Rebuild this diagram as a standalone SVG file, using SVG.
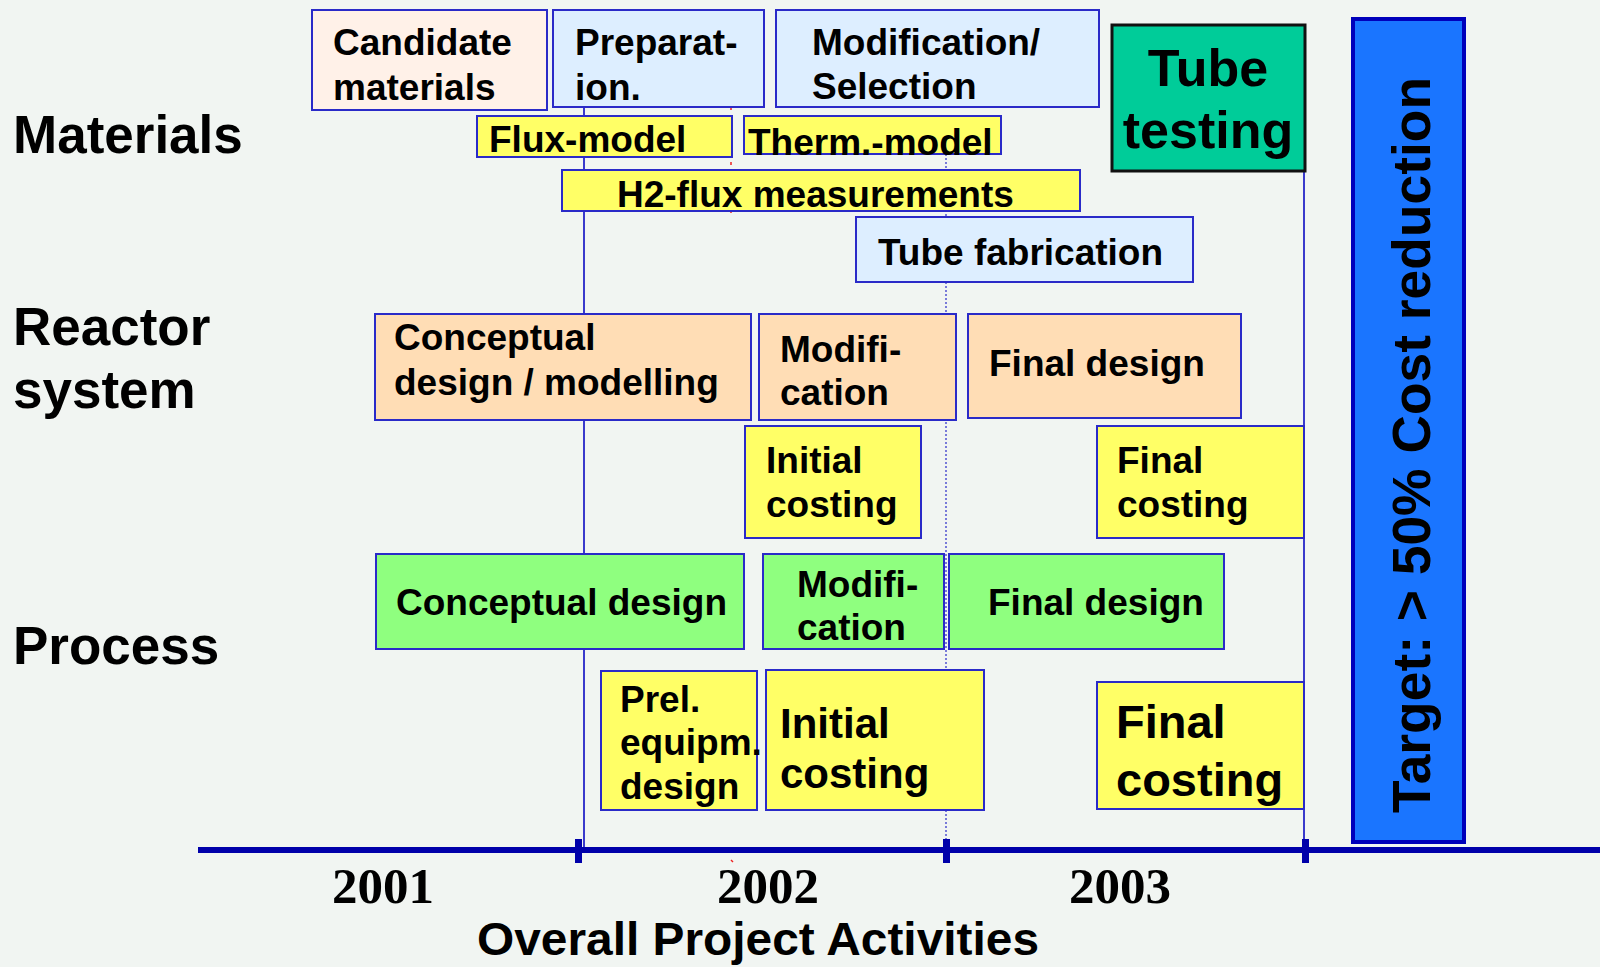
<svg xmlns="http://www.w3.org/2000/svg" width="1600" height="967" viewBox="0 0 1600 967">
  <style>
    .lbl { font-family: "Liberation Sans", Arial, sans-serif; font-weight: bold; fill: #000; }
    .t37 { font-size: 37px; }
    .t52 { font-size: 52px; }
    .row { font-size: 53px; }
    .box { stroke: #2a2ac8; stroke-width: 2; }
    .peach-lt { fill: #fff1e8; }
    .blue-lt { fill: #ddeeff; }
    .yellow { fill: #ffff66; }
    .peach { fill: #ffddb5; }
    .green { fill: #8fff7f; }
    .year { font-family: "Liberation Serif", "Times New Roman", serif; font-weight: bold; font-size: 51px; fill: #000; text-anchor: middle; }
  </style>

  <!-- background -->
  <rect x="0" y="0" width="1600" height="967" fill="#f1f5f2"/>

  <!-- milestone guide lines (behind the activity bars) -->
  <g id="connectors">
    <line x1="584" y1="107" x2="584" y2="849" stroke="#3a3acc" stroke-width="2"/>
    <line x1="946" y1="154" x2="946" y2="849" stroke="#2a2ac8" stroke-width="1.2" stroke-dasharray="2,2"/>
    <line x1="1304" y1="171" x2="1304" y2="849" stroke="#3a3acc" stroke-width="2"/>
    <!-- faint red guide marks -->
    <g stroke="#ee2222" stroke-width="1.5">
      <line x1="731" y1="107" x2="731" y2="110"/>
      <line x1="731" y1="162" x2="731" y2="165"/>
      <line x1="731" y1="210" x2="731" y2="213"/>
      <line x1="731" y1="860" x2="733" y2="862"/>
    </g>
  </g>

  <!-- row headings -->
  <g id="row-labels" class="lbl row">
    <text x="13" y="153">Materials</text>
    <text x="13" y="345">Reactor</text>
    <text x="13" y="408">system</text>
    <text x="13" y="664">Process</text>
  </g>

  <!-- Materials row -->
  <g id="candidate-materials">
    <rect class="box peach-lt" x="312" y="10" width="235" height="100"/>
    <text class="lbl t37" x="333" y="55">Candidate</text>
    <text class="lbl t37" x="333" y="100">materials</text>
  </g>
  <g id="preparation">
    <rect class="box blue-lt" x="553" y="10" width="211" height="97"/>
    <text class="lbl t37" x="575" y="55">Preparat-</text>
    <text class="lbl t37" x="575" y="100">ion.</text>
  </g>
  <g id="modification-selection">
    <rect class="box blue-lt" x="776" y="10" width="323" height="97"/>
    <text class="lbl t37" x="812" y="55">Modification/</text>
    <text class="lbl t37" x="812" y="99">Selection</text>
  </g>
  <g id="flux-model">
    <rect class="box yellow" x="477" y="116" width="255" height="41"/>
    <text class="lbl t37" x="489" y="152">Flux-model</text>
  </g>
  <g id="therm-model">
    <rect class="box yellow" x="744" y="116" width="257" height="38"/>
    <text class="lbl t37" x="748" y="155">Therm.-model</text>
  </g>
  <g id="h2-flux">
    <rect class="box yellow" x="562" y="170" width="518" height="41"/>
    <text class="lbl t37" x="617" y="207">H2-flux measurements</text>
  </g>
  <g id="tube-fabrication">
    <rect class="box blue-lt" x="856" y="217" width="337" height="65"/>
    <text class="lbl t37" x="878" y="265">Tube fabrication</text>
  </g>
  <g id="tube-testing">
    <rect x="1112" y="25" width="193" height="146" fill="#00cc99" stroke="#111" stroke-width="3"/>
    <text class="lbl t52" x="1208" y="86" text-anchor="middle">Tube</text>
    <text class="lbl t52" x="1208" y="148" text-anchor="middle">testing</text>
  </g>

  <!-- Reactor system row -->
  <g id="reactor-conceptual">
    <rect class="box peach" x="375" y="314" width="376" height="106"/>
    <text class="lbl t37" x="394" y="350">Conceptual</text>
    <text class="lbl t37" x="394" y="395">design / modelling</text>
  </g>
  <g id="reactor-modification">
    <rect class="box peach" x="759" y="314" width="197" height="106"/>
    <text class="lbl t37" x="780" y="362">Modifi-</text>
    <text class="lbl t37" x="780" y="405">cation</text>
  </g>
  <g id="reactor-final-design">
    <rect class="box peach" x="968" y="314" width="273" height="104"/>
    <text class="lbl t37" x="989" y="376">Final design</text>
  </g>
  <g id="reactor-initial-costing">
    <rect class="box yellow" x="745" y="426" width="176" height="112"/>
    <text class="lbl t37" x="766" y="473">Initial</text>
    <text class="lbl t37" x="766" y="517">costing</text>
  </g>
  <g id="reactor-final-costing">
    <rect class="box yellow" x="1097" y="426" width="207" height="112"/>
    <text class="lbl t37" x="1117" y="473">Final</text>
    <text class="lbl t37" x="1117" y="517">costing</text>
  </g>

  <!-- Process row -->
  <g id="process-conceptual">
    <rect class="box green" x="376" y="554" width="368" height="95"/>
    <text class="lbl t37" x="396" y="615">Conceptual design</text>
  </g>
  <g id="process-modification">
    <rect class="box green" x="763" y="554" width="181" height="95"/>
    <text class="lbl t37" x="797" y="597">Modifi-</text>
    <text class="lbl t37" x="797" y="640">cation</text>
  </g>
  <g id="process-final-design">
    <rect class="box green" x="949" y="554" width="275" height="95"/>
    <text class="lbl t37" x="988" y="615">Final design</text>
  </g>
  <g id="prel-equipment">
    <rect class="box yellow" x="601" y="671" width="156" height="139"/>
    <text class="lbl t37" x="620" y="712">Prel.</text>
    <text class="lbl t37" x="620" y="755">equipm.</text>
    <text class="lbl t37" x="620" y="799">design</text>
  </g>
  <g id="process-initial-costing">
    <rect class="box yellow" x="766" y="670" width="218" height="140"/>
    <text class="lbl" font-size="42" x="780" y="738">Initial</text>
    <text class="lbl" font-size="42" x="780" y="788">costing</text>
  </g>
  <g id="process-final-costing">
    <rect class="box yellow" x="1097" y="682" width="207" height="127"/>
    <text class="lbl" font-size="47" x="1116" y="738">Final</text>
    <text class="lbl" font-size="47" x="1116" y="796">costing</text>
  </g>

  <!-- cost target banner -->
  <g id="target">
    <rect x="1353" y="19" width="111" height="823" fill="#1a75ff" stroke="#0000bb" stroke-width="4"/>
    <text class="lbl" font-size="53" transform="translate(1430,813) rotate(-90)" textLength="736" lengthAdjust="spacingAndGlyphs">Target: &gt; 50% Cost reduction</text>
  </g>

  <!-- time axis -->
  <g id="time-axis">
    <line x1="198" y1="850" x2="1600" y2="850" stroke="#0000aa" stroke-width="6"/>
    <rect x="575" y="839" width="7" height="24" fill="#0000aa"/>
    <rect x="943" y="839" width="7" height="24" fill="#0000aa"/>
    <rect x="1302" y="839" width="7" height="24" fill="#0000aa"/>
    <text class="year" x="383" y="903">2001</text>
    <text class="year" x="768" y="903">2002</text>
    <text class="year" x="1120" y="903">2003</text>
    <text class="lbl" font-size="46" x="477" y="955" textLength="562" lengthAdjust="spacingAndGlyphs">Overall Project Activities</text>
  </g>
</svg>
